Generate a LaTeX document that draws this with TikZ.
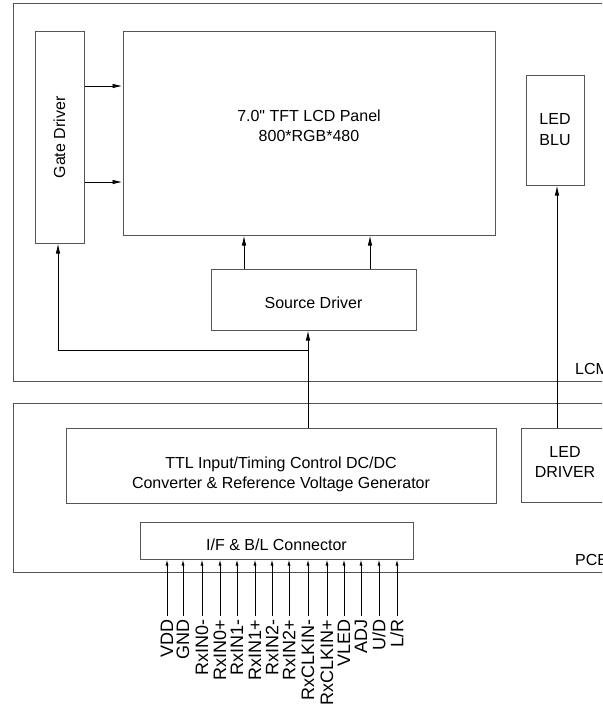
\documentclass[tikz,border=0pt]{standalone}
\usepackage{fontspec}
\setmainfont{Liberation Sans}[Ligatures=TeXOff]
\usetikzlibrary{arrows.meta}
\definecolor{boxgray}{HTML}{555555}
\begin{document}
\begin{tikzpicture}[x=1pt,y=-1pt,
  blk/.style={draw=boxgray, line width=1pt, inner sep=0pt},
  txt/.style 2 args={label={[align=center, inner sep=0pt, yshift=#2,
    font=\fontsize{16}{20.5}\selectfont]center:#1}},
  frame/.style={draw=boxgray, line width=1pt},
  wire/.style={draw=black, line width=0.9pt},
  arr/.style={wire, -{Latex[length=10pt,width=4.5pt]}},
  parr/.style={wire, -{Latex[length=6pt,width=3pt]}},
  pinlbl/.style={rotate=90, anchor=east, inner sep=0pt, font=\fontsize{18}{20}\selectfont},
  tag/.style={anchor=base west, inner sep=0pt, font=\fontsize{16}{20}\selectfont}]
\useasboundingbox (0,0) rectangle (602,706);
\clip (0,0) rectangle (602,706);
\fill[white] (0,0) rectangle (602,706);
% outer frames
\draw[frame] (13,4) rectangle (650,381);
\draw[frame] (13,403) rectangle (650,572);
\node[tag] (lcm) at (575,374) {LCM};
\node[tag] (pcb) at (575,565) {PCB};
% blocks
\node[blk, minimum width=49pt, minimum height=211pt,
  label={[rotate=90, inner sep=0pt, font=\fontsize{16}{20}\selectfont]center:Gate Driver}] (gate) at (59.5,137.5) {};
\node[blk, minimum width=372pt, minimum height=203pt,
  txt={{7.0" TFT LCD Panel\\800*RGB*480}}{7.5pt}] (panel) at (309,133.5) {};
\node[blk, minimum width=58pt, minimum height=109pt, txt={{LED\\BLU}}{1pt}] (blu) at (555,130.5) {};
\node[blk, minimum width=205pt, minimum height=61pt, txt={{Source Driver}}{-3pt}] (src) at (313.5,299.5) {};
\node[blk, minimum width=430pt, minimum height=75pt,
  txt={{TTL Input/Timing Control DC/DC\\Converter \& Reference Voltage Generator}}{-9pt}] (ttl) at (281,465.5) {};
\node[blk, minimum width=88pt, minimum height=74pt, txt={{LED\\DRIVER}}{3pt}] (drv) at (565,465) {};
\node[blk, minimum width=273pt, minimum height=37pt, txt={{I/F \& B/L Connector}}{-4pt}] (conn) at (276.5,540.5) {};
% connectors
\draw[arr] (gate.east |- 0,86) -- (panel.west |- 0,86);
\draw[arr] (gate.east |- 0,182) -- (panel.west |- 0,182);
\draw[arr] (src.north -| 244,0) -- (panel.south -| 244,0);
\draw[arr] (src.north -| 370,0) -- (panel.south -| 370,0);
\coordinate (bend) at (308,350);
\coordinate (corner) at (58,350);
\draw[arr] (ttl.north -| bend) -- (src.south -| bend);
\draw[arr] (bend) -- (corner) -- (gate.south -| corner);
\draw[arr] (drv.north -| 557,0) -- (blu.south -| 557,0);
% pins
\foreach \x/\t [count=\i] in {167/VDD,183/GND,202/RxIN0-,220/RxIN0+,237/RxIN1-,255/RxIN1+,272/RxIN2-,289/RxIN2+,308/RxCLKIN-,327/RxCLKIN+,344/VLED,361/ADJ,379/{U/D},397/{L/R}}{
  \coordinate (p\i) at (\x,616);
  \draw[parr] (p\i) -- (conn.south -| p\i);
  \node[pinlbl] (l\i) at (\x,619.5) {\t};
}
\end{tikzpicture}
\end{document}
